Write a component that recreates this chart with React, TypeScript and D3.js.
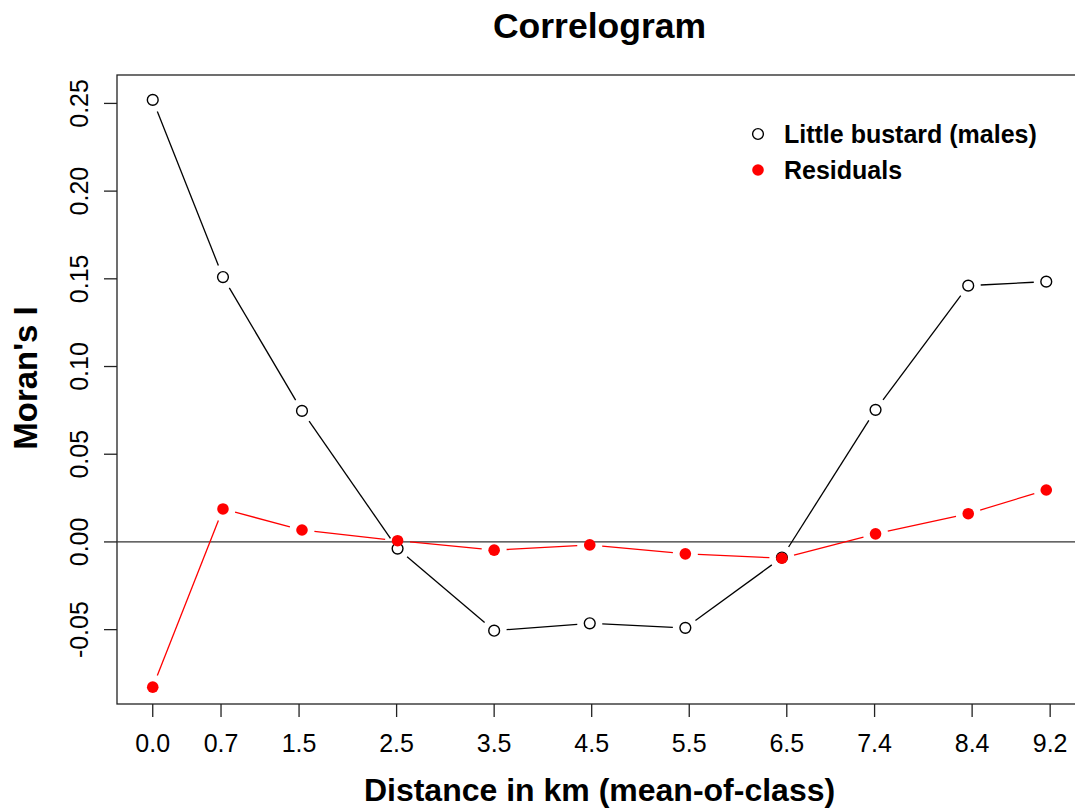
import React, { useRef, useEffect } from 'react';
import * as d3 from 'd3';

// mean distance of each class (km), and the rounded tick positions drawn on the axis
const distances = [0.0, 0.72, 1.53, 2.51, 3.5, 4.48, 5.46, 6.45, 7.41, 8.36, 9.16];
const tickValues = [0.0, 0.7, 1.5, 2.5, 3.5, 4.5, 5.5, 6.5, 7.4, 8.4, 9.2];
const tickLabels = ['0.0', '0.7', '1.5', '2.5', '3.5', '4.5', '5.5', '6.5', '7.4', '8.4', '9.2'];
const yTicks = [-0.05, 0.0, 0.05, 0.1, 0.15, 0.2, 0.25];
const yTickLabels = ['-0.05', '0.00', '0.05', '0.10', '0.15', '0.20', '0.25'];

const bustardValues = [0.252, 0.151, 0.0747, -0.0038, -0.0506, -0.0464, -0.049, -0.0089, 0.0753, 0.1461, 0.1484];
const residualValues = [-0.0828, 0.0188, 0.0068, 0.0007, -0.0047, -0.0017, -0.0068, -0.0093, 0.0046, 0.0161, 0.0296];

const width = 1075;
const height = 812;
const plotLeft = 117;
const plotRight = 1082; // the right side of the box falls outside the picture
const plotTop = 75;
const plotBottom = 704;
const font = '"Liberation Sans", Arial, sans-serif';
const gap = 12.5;
const pointRadius = 5.8;

const drawChart = (element) => {
    const svg = d3.select(element);
    svg.selectAll('*').remove();

    const xSpan = d3.max(distances) - d3.min(distances);
    const x = d3.scaleLinear()
        .domain([d3.min(distances) - 0.04 * xSpan, d3.max(distances) + 0.04 * xSpan])
        .range([plotLeft, plotRight]);
    const y = d3.scaleLinear().domain([-0.0924, 0.2662]).range([plotBottom, plotTop]);

    // title
    svg.append('text')
        .attr('x', (plotLeft + plotRight) / 2).attr('y', 38)
        .attr('text-anchor', 'middle')
        .attr('font-family', font).attr('font-weight', 'bold').attr('font-size', 35.5)
        .text('Correlogram');

    // box + zero line
    svg.append('rect')
        .attr('x', plotLeft).attr('y', plotTop)
        .attr('width', plotRight - plotLeft).attr('height', plotBottom - plotTop)
        .attr('fill', 'none').attr('stroke', '#222').attr('stroke-width', 1.3);

    svg.append('line')
        .attr('x1', plotLeft).attr('x2', plotRight)
        .attr('y1', y(0)).attr('y2', y(0))
        .attr('stroke', '#333').attr('stroke-width', 1.3);

    // x axis
    const xAxis = svg.append('g');
    xAxis.selectAll('line').data(tickValues).join('line')
        .attr('x1', d => x(d)).attr('x2', d => x(d))
        .attr('y1', plotBottom).attr('y2', plotBottom + 13)
        .attr('stroke', '#222').attr('stroke-width', 1.3);
    xAxis.selectAll('text').data(tickValues).join('text')
        .attr('x', d => x(d)).attr('y', 752)
        .attr('text-anchor', 'middle')
        .attr('font-family', font).attr('font-size', 25)
        .text((d, i) => tickLabels[i]);

    // y axis
    const yAxis = svg.append('g');
    yAxis.selectAll('line').data(yTicks).join('line')
        .attr('x1', plotLeft - 13).attr('x2', plotLeft)
        .attr('y1', d => y(d)).attr('y2', d => y(d))
        .attr('stroke', '#222').attr('stroke-width', 1.3);
    yAxis.selectAll('text').data(yTicks).join('text')
        .attr('transform', d => `translate(88 ${y(d)}) rotate(-90)`)
        .attr('text-anchor', 'middle')
        .attr('font-family', font).attr('font-size', 25)
        .text((d, i) => yTickLabels[i]);

    // axis titles
    svg.append('text')
        .attr('x', (plotLeft + plotRight) / 2).attr('y', 801)
        .attr('text-anchor', 'middle')
        .attr('font-family', font).attr('font-weight', 'bold').attr('font-size', 32)
        .text('Distance in km (mean-of-class)');
    svg.append('text')
        .attr('transform', `translate(37 378) rotate(-90)`)
        .attr('text-anchor', 'middle')
        .attr('font-family', font).attr('font-weight', 'bold').attr('font-size', 33)
        .text("Moran's I");

    // series drawn like R's type = "b": segments stop short of the points
    const drawSeries = (values, color, filled) => {
        const pts = values.map((v, i) => [x(distances[i]), y(v)]);
        const segs = d3.pairs(pts).map(([a, b]) => {
            const dx = b[0] - a[0], dy = b[1] - a[1];
            const len = Math.hypot(dx, dy);
            return [a[0] + dx / len * gap, a[1] + dy / len * gap, b[0] - dx / len * gap, b[1] - dy / len * gap, len];
        }).filter(s => s[4] > 2 * gap);
        const g = svg.append('g');
        g.selectAll('line').data(segs).join('line')
            .attr('x1', s => s[0]).attr('y1', s => s[1])
            .attr('x2', s => s[2]).attr('y2', s => s[3])
            .attr('stroke', color).attr('stroke-width', 1.3);
        g.selectAll('circle').data(pts).join('circle')
            .attr('cx', p => p[0]).attr('cy', p => p[1])
            .attr('r', filled ? pointRadius : pointRadius - 0.4)
            .attr('fill', filled ? color : 'none')
            .attr('stroke', color).attr('stroke-width', filled ? 0 : 1.4);
    };

    drawSeries(bustardValues, '#000', false);
    drawSeries(residualValues, '#ff0000', true);

    // legend
    const legend = svg.append('g');
    legend.append('circle').attr('cx', 758).attr('cy', 134).attr('r', pointRadius - 0.4)
        .attr('fill', 'none').attr('stroke', '#000').attr('stroke-width', 1.4);
    legend.append('circle').attr('cx', 758).attr('cy', 170).attr('r', pointRadius)
        .attr('fill', '#ff0000');
    legend.append('text').attr('x', 784).attr('y', 143)
        .attr('font-family', font).attr('font-weight', 'bold').attr('font-size', 25)
        .text('Little bustard (males)');
    legend.append('text').attr('x', 784).attr('y', 179)
        .attr('font-family', font).attr('font-weight', 'bold').attr('font-size', 25)
        .text('Residuals');
};

const App = () => {
    const svgRef = useRef(null);

    useEffect(() => {
        if (svgRef.current) drawChart(svgRef.current);
    }, []);

    return (
        <svg
            ref={svgRef}
            width={width}
            height={height}
            style={{ position: 'absolute', left: 0, top: 0, background: '#fff' }}
        />
    );
};

export default App;
